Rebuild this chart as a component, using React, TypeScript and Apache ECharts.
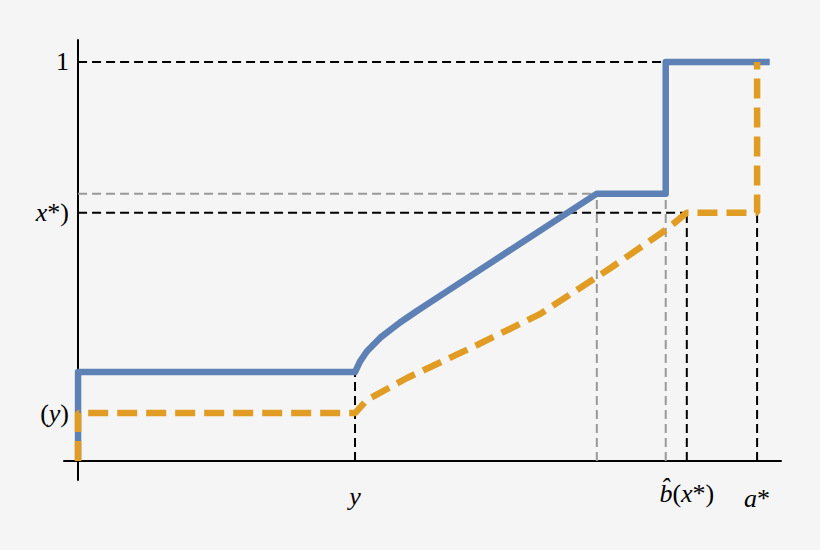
import { useEffect, useRef } from "react";
import * as echarts from "echarts";

// axis range (x: arbitrary units, y: share, 1 = top level)
const X_RANGE = [-0.2, 10];
const Y_RANGE = [-0.0476, 1.055];

// x positions of the marked points
const X_Y = 3.94;
const X_GREY = 7.38;
const X_JUMP = 8.36;
const X_BHAT = 8.66;
const X_ASTAR = 9.66;

// y levels
const Y_ONE = 1;
const Y_GREY = 0.67;
const Y_XSTAR = 0.622;
const Y_BLUE = 0.223;
const Y_ORANGE = 0.12;

// blue solid curve
const blueX = [0, 0, 3.94, 3.97, 4.01, 4.11, 4.3, 4.58, 4.82, 5.22, 6.1, 7.38, 8.36, 8.36, 9.84];
const blueY = [0, 0.223, 0.223, 0.234, 0.249, 0.275, 0.309, 0.347, 0.376, 0.422, 0.523, 0.67, 0.67, 1, 1];

// orange dashed curve
const orangeX = [0, 0, 3.94, 4.11, 4.68, 5.62, 6.57, 7.38, 7.57, 8.36, 8.66, 9.66, 9.66];
const orangeY = [0, 0.12, 0.12, 0.153, 0.208, 0.286, 0.368, 0.461, 0.483, 0.579, 0.622, 0.622, 1];

const yTicks = [Y_ORANGE, Y_XSTAR, Y_ONE];
const yTickLabels = ["{n|(}{i|y}{n|)}", "{i|x}{n|*)}", "{n|1}"];
const xTicks = [X_Y, X_BHAT, X_ASTAR];
const xTickLabels = ["{iy|y}", "{i|b\u0302}{n|(}{i|x}{n|*)}", "{ia|a}{na|*}"];

const BLUE = "#5e81b5";
const ORANGE = "#e19c24";
const FONT = "Liberation Serif";

const base = { fontFamily: FONT, fontSize: 26, color: "#000" };
const rich = {
  n: base,
  i: { ...base, fontStyle: "italic" },
  iy: { ...base, fontStyle: "italic", padding: [3, 0, 0, 0] },
  ia: { ...base, fontStyle: "italic", padding: [5, 0, 0, 0] },
  na: { ...base, padding: [5, 0, 0, 0] },
};

const pick = (ticks: number[], labels: string[]) => (v: number) => {
  const k = ticks.findIndex((t) => Math.abs(t - v) < 1e-6);
  return k >= 0 ? labels[k] : "";
};

const refLine = (pts: number[][], color: string) => ({
  type: "line",
  data: pts,
  symbol: "none",
  silent: true,
  lineStyle: { color, width: 2, type: [9, 5] },
});

export default function App() {
  const ref = useRef<HTMLDivElement>(null);

  useEffect(() => {
    if (!ref.current) return;
    const chart = echarts.init(ref.current, null, { renderer: "svg" });

    chart.setOption({
      animation: false,
      backgroundColor: "#f5f5f5",
      grid: { left: 64, right: 39, top: 40, bottom: 70 },
      xAxis: {
        type: "value",
        min: X_RANGE[0],
        max: X_RANGE[1],
        splitLine: { show: false },
        axisTick: { show: false },
        axisLine: { onZero: true, lineStyle: { color: "#000", width: 2 } },
        axisLabel: {
          customValues: xTicks,
          margin: 0,
          formatter: pick(xTicks, xTickLabels),
          rich,
        },
      },
      yAxis: {
        type: "value",
        min: Y_RANGE[0],
        max: Y_RANGE[1],
        splitLine: { show: false },
        axisTick: { show: false },
        axisLine: { onZero: true, lineStyle: { color: "#000", width: 2 } },
        axisLabel: {
          customValues: yTicks,
          margin: -5,
          formatter: pick(yTicks, yTickLabels),
          rich,
        },
      },
      series: [
        // grey guides
        refLine([[0, Y_GREY], [X_GREY, Y_GREY]], "#999"),
        refLine([[X_GREY, 0], [X_GREY, Y_GREY]], "#999"),
        refLine([[X_JUMP, 0], [X_JUMP, Y_GREY]], "#999"),
        // black guides
        refLine([[0, Y_ONE], [X_JUMP, Y_ONE]], "#000"),
        refLine([[0, Y_XSTAR], [X_BHAT, Y_XSTAR]], "#000"),
        refLine([[X_Y, 0], [X_Y, Y_BLUE]], "#000"),
        refLine([[X_BHAT, 0], [X_BHAT, Y_XSTAR]], "#000"),
        refLine([[X_ASTAR, 0], [X_ASTAR, Y_XSTAR]], "#000"),
        {
          type: "line",
          data: blueX.map((x, i) => [x, blueY[i]]),
          symbol: "none",
          lineStyle: { color: BLUE, width: 6.5, join: "round" },
          z: 3,
        },
        {
          type: "line",
          data: orangeX.map((x, i) => [x, orangeY[i]]),
          symbol: "none",
          lineStyle: { color: ORANGE, width: 6.5, type: [20, 9] },
          z: 4,
        },
      ],
    });

    return () => chart.dispose();
  }, []);

  return (
    <div
      ref={ref}
      style={{ position: "fixed", left: 0, top: 0, width: 820, height: 550 }}
    />
  );
}
